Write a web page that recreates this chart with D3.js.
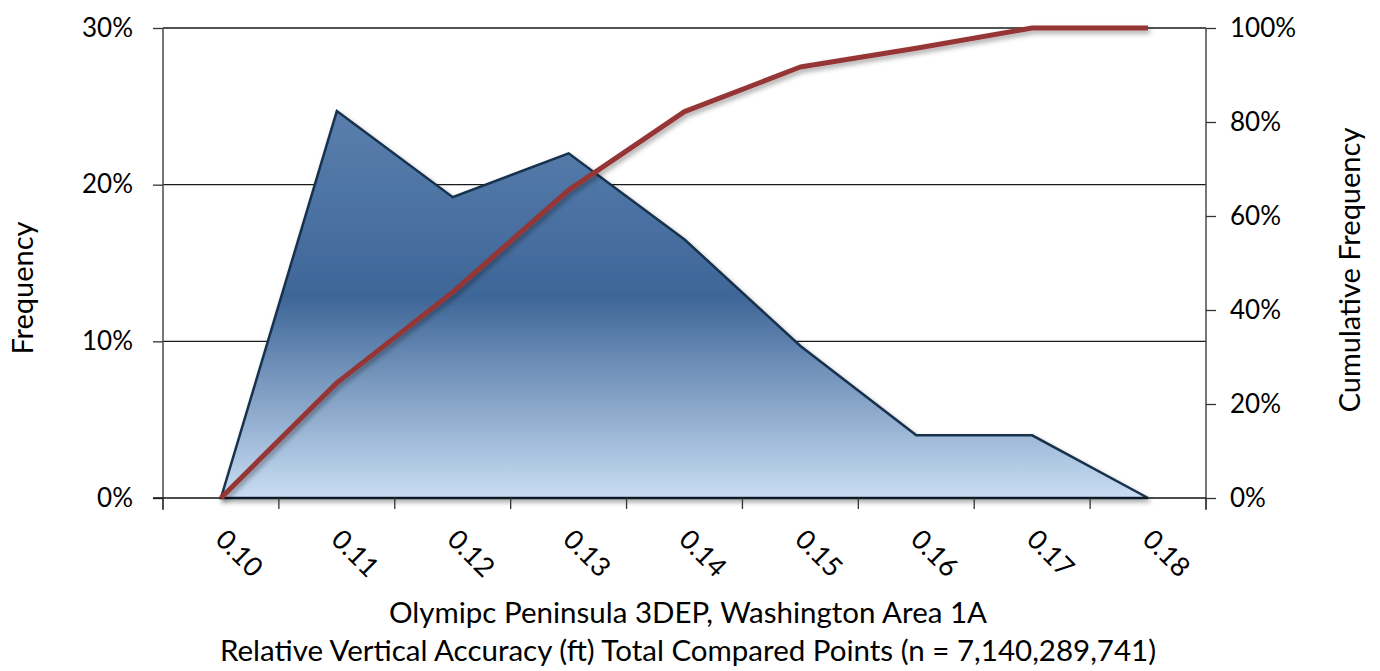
<!DOCTYPE html>
<html><head><meta charset="utf-8">
<script src="https://cdn.jsdelivr.net/npm/d3@7"></script>
<style>
html,body{margin:0;padding:0;background:#fff;}
text{font-family:Lato,"Open Sans",sans-serif;fill:#000;}
</style></head>
<body><svg id="c" width="1380" height="671"></svg>
<script>
const categories = ["0.10","0.11","0.12","0.13","0.14","0.15","0.16","0.17","0.18"];
const frequency = [0, 0.247, 0.192, 0.220, 0.165, 0.097, 0.040, 0.040, 0];
const cumulative = [0, 0.245, 0.438, 0.655, 0.822, 0.917, 0.957, 1.0, 1.0];
const leftTicks = [0, 0.1, 0.2, 0.3];
const rightTicks = [0, 0.2, 0.4, 0.6, 0.8, 1.0];
const titleLines = ["Olymipc Peninsula 3DEP, Washington Area 1A","Relative Vertical Accuracy (ft) Total Compared Points (n = 7,140,289,741)"];

const svg = d3.select("#c");
const L = 163, R = 1206, T = 28, B = 498;
const x = d3.scaleBand().domain(categories).range([L, R]).padding(0);
const cx = d => x(d) + x.bandwidth()/2;
const yL = d3.scaleLinear().domain([0, 0.3]).range([B, T]);
const yR = d3.scaleLinear().domain([0, 1]).range([B, T]);

const defs = svg.append("defs");
const g = defs.append("linearGradient").attr("id","ag").attr("x1",0).attr("y1",0).attr("x2",0).attr("y2",1);
g.append("stop").attr("offset","0%").attr("stop-color","#5a7fae");
g.append("stop").attr("offset","48%").attr("stop-color","#3e6698");
g.append("stop").attr("offset","100%").attr("stop-color","#c9ddf3");
const f = defs.append("filter").attr("id","sh").attr("x","-10%").attr("y","-10%").attr("width","130%").attr("height","130%");
f.append("feDropShadow").attr("dx",2).attr("dy",3).attr("stdDeviation",2.5).attr("flood-color","#000").attr("flood-opacity",0.35);

// gridlines
svg.append("g").selectAll("line").data(leftTicks.slice(1)).join("line")
  .attr("x1", L).attr("x2", R).attr("y1", d=>yL(d)).attr("y2", d=>yL(d))
  .attr("stroke","#1a1a1a").attr("stroke-width",1.3);

// area
const area = d3.area().x((d,i)=>cx(categories[i])).y0(B).y1(d=>yL(d));
svg.append("path").datum(frequency).attr("d", area)
  .attr("fill","url(#ag)").attr("stroke","#17304d").attr("stroke-width",2.5)
  .attr("stroke-linejoin","miter").attr("filter","url(#sh)");

// axes
const axL = svg.append("g").attr("transform",`translate(${L},0)`)
  .call(d3.axisLeft(yL).tickValues(leftTicks).tickFormat(d3.format(".0%")).tickSize(10).tickPadding(20));
const axR = svg.append("g").attr("transform",`translate(${R},0)`)
  .call(d3.axisRight(yR).tickValues(rightTicks).tickFormat(d3.format(".0%")).tickSize(10).tickPadding(14));
[axL, axR].forEach(a => {
  a.select(".domain").attr("stroke","#555").attr("stroke-width",1.6).attr("d", `M0,${T}V${B+12}`);
  a.selectAll(".tick line").attr("stroke","#333").attr("stroke-width",1.3);
  a.selectAll(".tick text").attr("font-size",26).attr("font-family","Lato").attr("fill","#000");
});

// bottom axis
const xb = svg.append("g").attr("transform",`translate(0,${B})`);
xb.append("line").attr("x1",L-10).attr("x2",R).attr("y1",0).attr("y2",0).attr("stroke","#111").attr("stroke-width",1.6);
const bounds = categories.map(c => x(c)).concat([R]);
xb.selectAll("line.t").data(bounds).join("line").attr("class","t")
  .attr("x1",d=>d).attr("x2",d=>d).attr("y1",0).attr("y2",11).attr("stroke","#333").attr("stroke-width",1.3);
svg.append("g").selectAll("text").data(categories).join("text")
  .attr("transform", d => `translate(${cx(d)-7},${B+43}) rotate(45)`)
  .attr("font-size",27).text(d=>d);

// cumulative line
const line = d3.line().x((d,i)=>cx(categories[i])).y(d=>yR(d));
svg.append("path").datum(cumulative).attr("d", line)
  .attr("fill","none").attr("stroke","#963634").attr("stroke-width",5)
  .attr("stroke-linejoin","round").attr("filter","url(#sh)");

// axis titles
svg.append("text").attr("transform","translate(33,288) rotate(-90)").attr("text-anchor","middle")
  .attr("font-size",29).text("Frequency");
svg.append("text").attr("transform","translate(1360,270) rotate(-90)").attr("text-anchor","middle")
  .attr("font-size",29).text("Cumulative Frequency");
svg.append("g").selectAll("text").data(titleLines).join("text")
  .attr("x",688).attr("y",(d,i)=>623+i*38).attr("text-anchor","middle")
  .attr("font-size",29.5).text(d=>d);
</script></body></html>
